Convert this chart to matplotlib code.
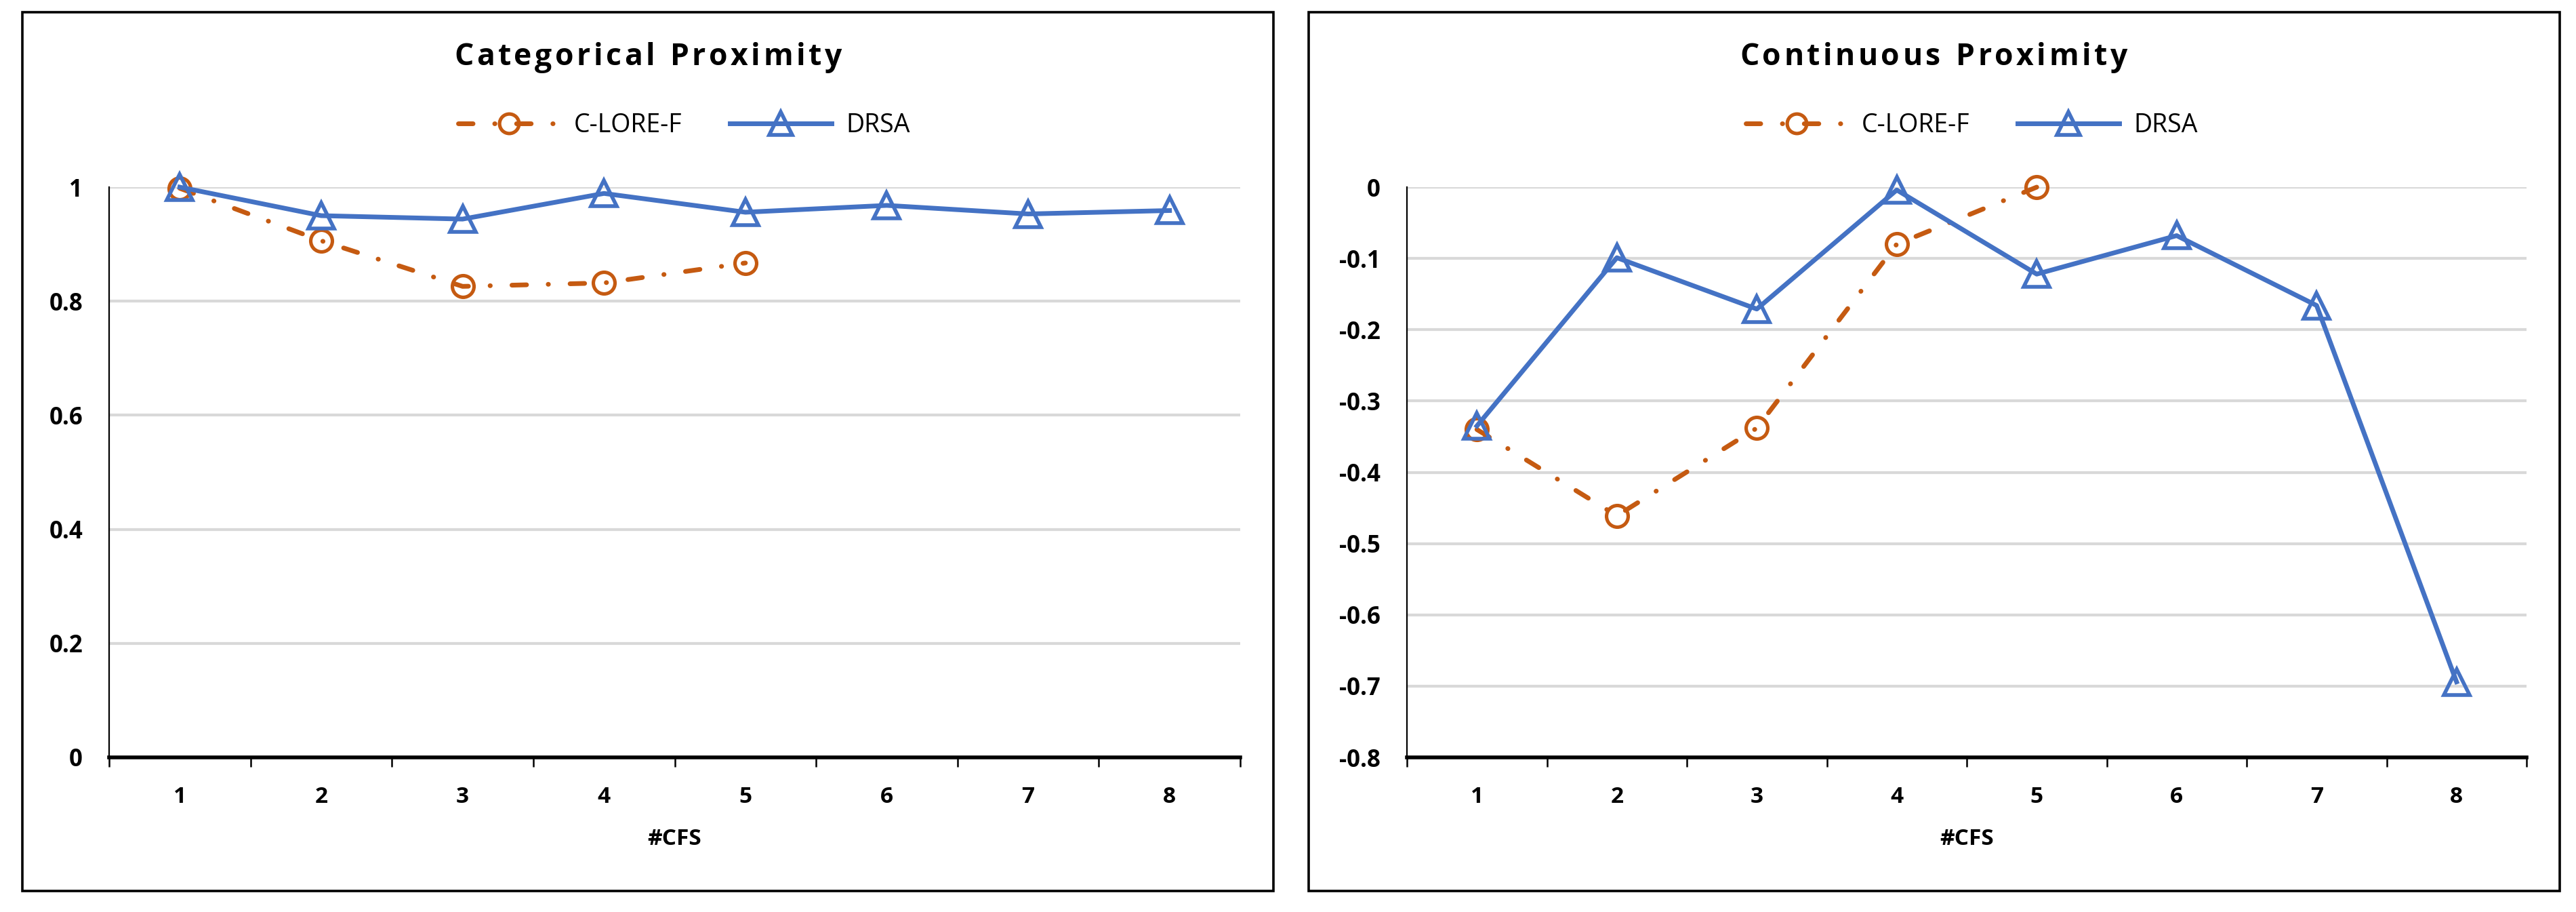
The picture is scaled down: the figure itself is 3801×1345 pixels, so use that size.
import matplotlib
matplotlib.use("Agg")
import matplotlib.pyplot as plt
from matplotlib.patches import Rectangle
import numpy as np

# ---- data ----
cfs = [1, 2, 3, 4, 5, 6, 7, 8]
cat_clore = [0.998, 0.906, 0.826, 0.832, 0.867]
cat_drsa = [1.0, 0.950, 0.944, 0.989, 0.956, 0.968, 0.953, 0.959]
con_clore = [-0.340, -0.461, -0.338, -0.080, 0.0]
con_drsa = [-0.335, -0.099, -0.171, -0.004, -0.122, -0.068, -0.166, -0.694]
titles = ["Categorical Proximity", "Continuous Proximity"]
series_names = ["C-LORE-F", "DRSA"]
xlabel = "#CFS"

W, H = 3801, 1345
DPI = 100
plt.rcParams['font.family'] = ['Open Sans', 'DejaVu Sans']

fig = plt.figure(figsize=(W / DPI, H / DPI), dpi=DPI)
renderer = fig.canvas.get_renderer()

BLUE = "#4472C4"
ORANGE = "#C55A11"
GRID = "#D9D9D9"


def fx(px):
    return px / W


def fy(py):
    return 1 - py / H


def spaced_text(cx_px, cy_px, s, spacing_px, **kw):
    # place characters one by one with extra tracking, centred at cx_px
    widths = []
    for ch in s:
        t = fig.text(0, 0, ch if ch != " " else "i", **kw)
        bb = t.get_window_extent(renderer)
        widths.append(bb.width)
        t.remove()
    total = sum(widths) + spacing_px * (len(s) - 1)
    x = cx_px - total / 2
    for ch, w in zip(s, widths):
        if ch != " ":
            fig.text(fx(x), fy(cy_px), ch, ha="left", va="center", **kw)
        x += w + spacing_px


panels = [
    dict(box=(33, 18, 1879, 1314), ax=(161, 276, 1830, 1117), ylim=(0, 1),
         yticks=[0, 0.2, 0.4, 0.6, 0.8, 1.0], yfmt=lambda v: f"{v:g}",
         clore=cat_clore, drsa=cat_drsa, title=titles[0], tx=956, lx=676),
    dict(box=(1931, 18, 3777, 1314), ax=(2076, 276, 3728, 1117), ylim=(-0.8, 0),
         yticks=[-0.8, -0.7, -0.6, -0.5, -0.4, -0.3, -0.2, -0.1, 0.0],
         yfmt=lambda v: "0" if abs(v) < 1e-9 else f"{v:g}",
         clore=con_clore, drsa=con_drsa, title=titles[1], tx=2853, lx=2576),
]

for p in panels:
    bx0, by0, bx1, by1 = p["box"]
    fig.patches.append(Rectangle((fx(bx0), fy(by1)), fx(bx1 - bx0), (by1 - by0) / H,
                                 transform=fig.transFigure, fill=False,
                                 edgecolor="black", linewidth=2.6))
    ax0, ay0, ax1, ay1 = p["ax"]
    ax = fig.add_axes([fx(ax0), fy(ay1), fx(ax1 - ax0), (ay1 - ay0) / H])
    ax.set_xlim(0.5, 8.5)
    ax.set_ylim(*p["ylim"])
    ax.set_yticks(p["yticks"])
    ax.set_yticklabels([p["yfmt"](v) for v in p["yticks"]])
    ax.yaxis.grid(True, color=GRID, linewidth=3)
    ax.set_axisbelow(True)
    for s in ["top", "right"]:
        ax.spines[s].set_visible(False)
    ax.spines["left"].set_linewidth(1.6)
    ax.spines["bottom"].set_linewidth(4)
    ax.set_xticks(cfs)
    ax.set_xticklabels([str(c) for c in cfs])
    ax.set_xticks(np.arange(0.5, 9.0, 1.0), minor=True)
    ax.tick_params(axis="x", which="major", length=0, pad=30, labelsize=24)
    ax.tick_params(axis="x", which="minor", length=10, width=1.8, direction="out")
    ax.tick_params(axis="y", length=0, pad=28, labelsize=25)
    for lab in ax.get_xticklabels() + ax.get_yticklabels():
        lab.set_fontweight("bold")

    n = len(p["clore"])
    l1, = ax.plot(cfs[:n], p["clore"], color=ORANGE, linewidth=5,
                  dashes=(3.1, 4.6, 0.05, 4.6), dash_capstyle="round",
                  marker="o", markersize=23,
                  markerfacecolor="none", markeredgecolor=ORANGE,
                  markeredgewidth=3.7, clip_on=False, zorder=3,
                  label=series_names[0])
    l2, = ax.plot(cfs, p["drsa"], color=BLUE, linewidth=5, marker="^",
                  markersize=27, markerfacecolor="none", markeredgecolor=BLUE,
                  markeredgewidth=4, clip_on=False, zorder=4,
                  label=series_names[1])

    spaced_text(p["tx"], 85, p["title"], 4.5, fontsize=32, fontweight="bold")
    fig.text(fx((ax0 + ax1) / 2), fy(1237), xlabel, ha="center", va="center",
             fontsize=24, fontweight="bold")
    fig.legend(handles=[l1, l2], loc="center left",
               bbox_to_anchor=(fx(p["lx"]), fy(185)), ncol=2, frameon=False,
               fontsize=27, borderpad=0, borderaxespad=0, handlelength=4,
               handletextpad=0.55, columnspacing=1.9, markerscale=0.9)

fig.savefig("out.png", dpi=DPI)
